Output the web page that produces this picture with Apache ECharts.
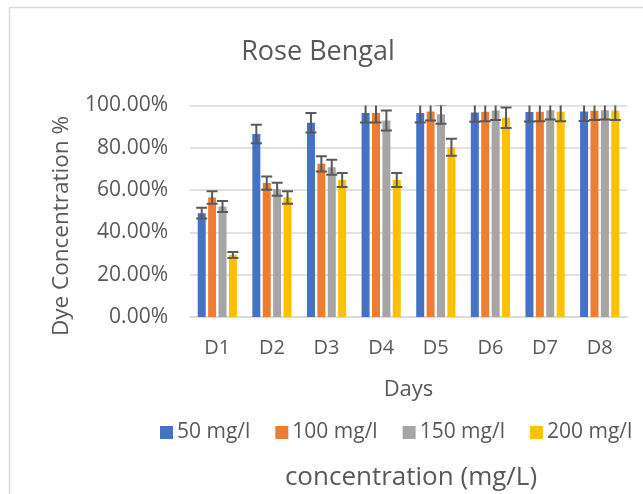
<!DOCTYPE html>
<html>
<head>
    <meta charset="utf-8">
    <title>Rose Bengal</title>
    <script src="https://cdn.jsdelivr.net/npm/echarts@6/dist/echarts.min.js"></script>
    <style>
        html, body { margin: 0; padding: 0; background: #fff; }
        #chart { width: 643px; height: 494px; }
    </style>
</head>
<body>
    <div id="chart"></div>
    <script>
        // data
        var days = ['D1', 'D2', 'D3', 'D4', 'D5', 'D6', 'D7', 'D8'];
        var names = ['50 mg/l', '100 mg/l', '150 mg/l', '200 mg/l'];
        var s50 = [49.1, 86.5, 91.8, 96.4, 96.4, 96.7, 96.9, 97.2];
        var s100 = [56.5, 63.3, 72.4, 96.4, 97.2, 97.0, 97.0, 97.5];
        var s150 = [52.2, 60.4, 70.8, 92.9, 95.9, 97.6, 97.8, 97.8];
        var s200 = [29.3, 56.5, 64.8, 64.8, 80.3, 94.2, 97.0, 97.5];
        var e50 = [2.5, 4.4, 4.6, 4.4, 4.4, 4.4, 4.5, 4.5];
        var e100 = [3.0, 3.1, 3.6, 4.4, 4.3, 4.4, 4.4, 4.4];
        var e150 = [2.6, 3.1, 3.5, 4.7, 4.5, 4.4, 4.4, 4.4];
        var e200 = [1.4, 2.9, 3.3, 3.3, 4.0, 4.8, 4.4, 4.4];
        var yTicks = [0, 20, 40, 60, 80, 100];

        var values = [s50, s100, s150, s200];
        var errors = [e50, e100, e150, e200];
        var colors = ['#4472C4', '#ED7D31', '#A5A5A5', '#FFC000'];
        var txt = '#595959';
        var font = '"Open Sans", "Noto Sans", sans-serif';

        var barW = 8, gap = 2.4;

        function errSeries(k) {
            var data = [];
            for (var i = 0; i < days.length; i++) {
                data.push([i, values[k][i], errors[k][i]]);
            }
            return {
                type: 'custom',
                name: 'err' + k,
                clip: true,
                z: 5,
                data: data,
                renderItem: function (params, api) {
                    var idx = api.value(0), v = api.value(1), e = api.value(2);
                    var total = 4 * barW + 3 * gap;
                    var off = -total / 2 + k * (barW + gap) + barW / 2;
                    var top = api.coord([idx, v + e]);
                    var bot = api.coord([idx, v - e]);
                    var x = top[0] + off;
                    var st = { stroke: '#595959', lineWidth: 2 };
                    return {
                        type: 'group',
                        children: [
                            { type: 'line', shape: { x1: x, y1: top[1], x2: x, y2: bot[1] }, style: st },
                            { type: 'line', shape: { x1: x - 5.5, y1: top[1], x2: x + 5.5, y2: top[1] }, style: st },
                            { type: 'line', shape: { x1: x - 5.5, y1: bot[1], x2: x + 5.5, y2: bot[1] }, style: st }
                        ]
                    };
                }
            };
        }

        var series = [];
        for (var k = 0; k < 4; k++) {
            series.push({
                name: names[k],
                type: 'bar',
                barWidth: barW,
                barGap: (gap / barW * 100) + '%',
                itemStyle: { color: colors[k] },
                data: values[k]
            });
        }
        for (var k = 0; k < 4; k++) series.push(errSeries(k));

        var chart = echarts.init(document.getElementById('chart'));
        chart.setOption({
            animation: false,
            textStyle: { fontFamily: font },
            title: [{
                text: 'Rose Bengal',
                left: 313, top: 34, textAlign: 'center',
                textStyle: { fontFamily: font, fontSize: 27, fontWeight: 'normal', color: txt }
            }, {
                text: 'concentration (mg/L)',
                left: 406, top: 460, textAlign: 'center',
                textStyle: { fontFamily: font, fontSize: 26, fontWeight: 'normal', color: txt }
            }],
            legend: {
                data: names,
                left: 155, top: 417,
                itemWidth: 13, itemHeight: 13, itemGap: 25,
                icon: 'rect',
                textStyle: { fontFamily: font, fontSize: 21, color: txt, padding: [0, 0, 0, -1] }
            },
            grid: { left: 190, right: 16, top: 105.5, bottom: 177, containLabel: false },
            xAxis: {
                type: 'category',
                data: days,
                name: 'Days',
                nameLocation: 'middle',
                nameGap: 62,
                nameTextStyle: { fontFamily: font, fontSize: 22, color: txt },
                axisLine: { lineStyle: { color: '#D9D9D9', width: 1.5 } },
                axisTick: { show: false },
                axisLabel: { fontFamily: font, fontSize: 20, color: txt, margin: 21 }
            },
            yAxis: {
                type: 'value',
                min: 0, max: 100, interval: 20,
                axisLine: { show: false },
                axisTick: { show: false },
                splitLine: { lineStyle: { color: '#D9D9D9', width: 1.5 } },
                axisLabel: {
                    fontFamily: font, fontSize: 21, color: txt, margin: 22,
                    customValues: yTicks,
                    formatter: function (v) { return v.toFixed(2) + '%'; }
                }
            },
            graphic: [
                { type: 'line', shape: { x1: 9.5, y1: 7.5, x2: 643, y2: 7.5 }, style: { stroke: '#D9D9D9', lineWidth: 1.5 } },
                { type: 'line', shape: { x1: 9.5, y1: 7.5, x2: 9.5, y2: 494 }, style: { stroke: '#D9D9D9', lineWidth: 1.5 } },
                {
                    type: 'text', x: 62, y: 226, rotation: Math.PI / 2,
                    style: {
                        text: 'Dye Concentration %', fill: txt, font: '22.5px ' + font,
                        align: 'center', verticalAlign: 'middle'
                    }
                }
            ],
            series: series
        });
    </script>
</body>
</html>
